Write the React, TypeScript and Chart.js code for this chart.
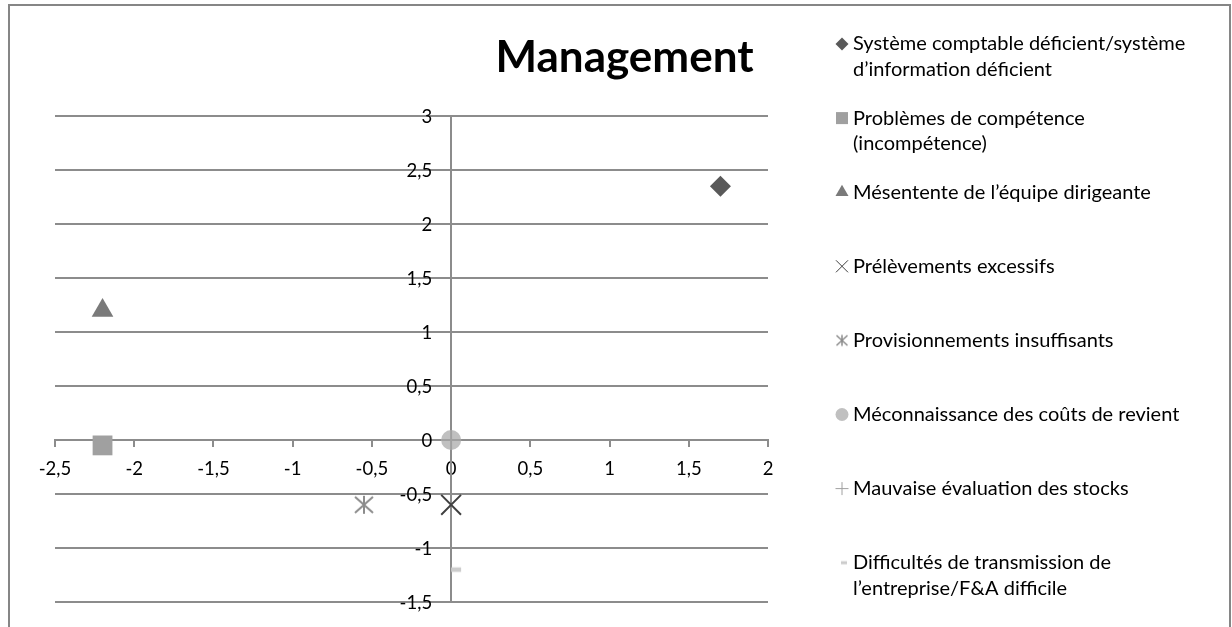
import React, { useEffect, useRef } from 'react';
import { Chart, registerables } from 'chart.js';
import { drawPoint } from 'chart.js/helpers';

Chart.register(...registerables);

const chartTitle = 'Management';
const seriesNames: string[][] = [
  ['Système comptable déficient/système', 'd’information déficient'],
  ['Problèmes de compétence', '(incompétence)'],
  ['Mésentente de l’équipe dirigeante'],
  ['Prélèvements excessifs'],
  ['Provisionnements insuffisants'],
  ['Méconnaissance des coûts de revient'],
  ['Mauvaise évaluation des stocks'],
  ['Difficultés de transmission de', 'l’entreprise/F&A difficile'],
];
const xValues = [1.7, -2.2, -2.2, 0, -0.55, 0, 0, 0];
const yValues = [2.35, -0.05, 1.2, -0.6, -0.6, 0, 0, -1.2];
const xTicks = [-2.5, -2, -1.5, -1, -0.5, 0, 0.5, 1, 1.5, 2];
const yTicks = [-1.5, -1, -0.5, 0, 0.5, 1, 1.5, 2, 2.5, 3];

const seriesColors = ['#595959', '#a0a0a0', '#7a7a7a', '#404040', '#8c8c8c', '#c0c0c0', '#a0a0a0', '#cccccc'];

const FONT = 'Lato';
const GRID = '#8c8c8c';
const fmt = (v: number) => String(v).replace('.', ',');

function makeAsterisk(size: number, arm: number, color: string, lw: number) {
  const c = document.createElement('canvas');
  c.width = size;
  c.height = size;
  const ctx = c.getContext('2d')!;
  const m = size / 2;
  ctx.strokeStyle = color;
  ctx.lineWidth = lw;
  ctx.beginPath();
  ctx.moveTo(m - arm, m - arm * 0.9);
  ctx.lineTo(m + arm, m + arm * 0.9);
  ctx.moveTo(m + arm, m - arm * 0.9);
  ctx.lineTo(m - arm, m + arm * 0.9);
  ctx.moveTo(m, m - arm);
  ctx.lineTo(m, m + arm);
  ctx.stroke();
  return c;
}

function makeDash(w: number, h: number, x0: number, len: number, th: number, color: string) {
  const c = document.createElement('canvas');
  c.width = w;
  c.height = h;
  const ctx = c.getContext('2d')!;
  ctx.fillStyle = color;
  ctx.fillRect(x0, (h - th) / 2, len, th);
  return c;
}

export default function App() {
  const ref = useRef<HTMLCanvasElement | null>(null);

  useEffect(() => {
    const canvas = ref.current!;
    const asteriskBig = makeAsterisk(24, 9, seriesColors[4], 2);
    const asteriskSmall = makeAsterisk(16, 5.5, seriesColors[4], 1.5);
    const dashBig = makeDash(24, 8, 12, 10, 4.5, seriesColors[7]);
    const dashSmall = makeDash(12, 6, 5, 6, 3, seriesColors[7]);

    const plotStyles: any[] = ['rectRot', 'rect', 'triangle', 'crossRot', asteriskBig, 'circle', 'cross', dashBig];
    const plotRadius = [10.5, 14, 12.5, 14, 12, 10, 10, 12];
    const legendStyles: any[] = ['rectRot', 'rect', 'triangle', 'crossRot', asteriskSmall, 'circle', 'cross', dashSmall];
    const legendRadius = [6.5, 8.5, 7.5, 8.5, 8, 6.5, 6.5, 6];
    const lineStyles = [false, false, false, true, true, false, true, false];

    const frame = {
      id: 'frame',
      beforeDraw(chart: any) {
        const ctx = chart.ctx;
        ctx.save();
        ctx.fillStyle = '#ffffff';
        ctx.fillRect(0, 0, chart.width, chart.height);
        ctx.strokeStyle = '#868686';
        ctx.lineWidth = 2;
        ctx.strokeRect(9, 5, 1221, 700);
        ctx.restore();
      },
      afterDatasetsDraw(chart: any) {
        // y tick labels, placed left of the y axis (which sits at x = 0)
        const ctx = chart.ctx;
        const ys = chart.scales.y;
        const axisX = chart.scales.x.getPixelForValue(0);
        ctx.save();
        ctx.fillStyle = '#000000';
        ctx.font = `18.5px ${FONT}`;
        ctx.textAlign = 'right';
        ctx.textBaseline = 'middle';
        yTicks.forEach((v) => ctx.fillText(fmt(v), axisX - 19, ys.getPixelForValue(v) + 1));
        ctx.restore();
      },
      afterDraw(chart: any) {
        const ctx = chart.ctx;
        ctx.save();
        ctx.fillStyle = '#000000';
        ctx.font = `bold 44px ${FONT}`;
        ctx.textAlign = 'center';
        ctx.textBaseline = 'middle';
        ctx.fillText(chartTitle, 624.5, 58);

        ctx.font = `20px ${FONT}`;
        ctx.textAlign = 'left';
        seriesNames.forEach((lines, i) => {
          const cy = 44 + i * 74.1;
          ctx.fillStyle = seriesColors[i];
          ctx.strokeStyle = seriesColors[i];
          drawPoint(ctx, {
            pointStyle: legendStyles[i],
            radius: legendRadius[i],
            rotation: 0,
            borderWidth: lineStyles[i] ? 1.5 : 0,
          } as any, 842, cy);
          ctx.fillStyle = '#000000';
          lines.forEach((t, j) => ctx.fillText(t, 853, cy + j * 25.5));
        });
        ctx.restore();
      },
    };

    const chart = new Chart(canvas, {
      type: 'scatter',
      data: {
        datasets: seriesNames.map((name, i) => ({
          label: name.join(' '),
          data: [{ x: xValues[i], y: yValues[i] }],
          pointStyle: plotStyles[i],
          pointRadius: plotRadius[i],
          pointHoverRadius: plotRadius[i],
          backgroundColor: seriesColors[i],
          borderColor: seriesColors[i],
          pointBorderWidth: lineStyles[i] ? 2 : 0,
          order: 7 - i,
        })),
      },
      options: {
        responsive: false,
        animation: false,
        events: [],
        layout: { padding: { left: 55, right: 464, top: 116, bottom: 25 } },
        plugins: {
          legend: { display: false },
          title: { display: false },
          tooltip: { enabled: false },
        },
        scales: {
          x: {
            type: 'linear',
            position: { y: 0 } as any,
            min: -2.5,
            max: 2,
            afterBuildTicks: (s: any) => { s.ticks = xTicks.map((v) => ({ value: v })); },
            grid: { drawOnChartArea: false, drawTicks: true, tickLength: 6, color: GRID, lineWidth: 2 },
            border: { display: true, color: GRID, width: 2 },
            ticks: {
              color: '#000000',
              font: { family: FONT, size: 18.5 },
              padding: 12,
              maxRotation: 0,
              autoSkip: false,
              callback: (v: any) => fmt(v),
            },
          },
          y: {
            type: 'linear',
            position: { x: 0 } as any,
            min: -1.5,
            max: 3,
            afterBuildTicks: (s: any) => { s.ticks = yTicks.map((v) => ({ value: v })); },
            grid: { drawOnChartArea: true, drawTicks: true, tickLength: 6, color: GRID, lineWidth: 2 },
            border: { display: true, color: GRID, width: 2 },
            ticks: { display: false },
          },
        },
      },
      plugins: [frame],
    });
    return () => chart.destroy();
  }, []);

  return (
    <canvas
      ref={ref}
      width={1232}
      height={627}
      style={{ position: 'fixed', left: 0, top: 0, width: 1232, height: 627, display: 'block' }}
    />
  );
}
